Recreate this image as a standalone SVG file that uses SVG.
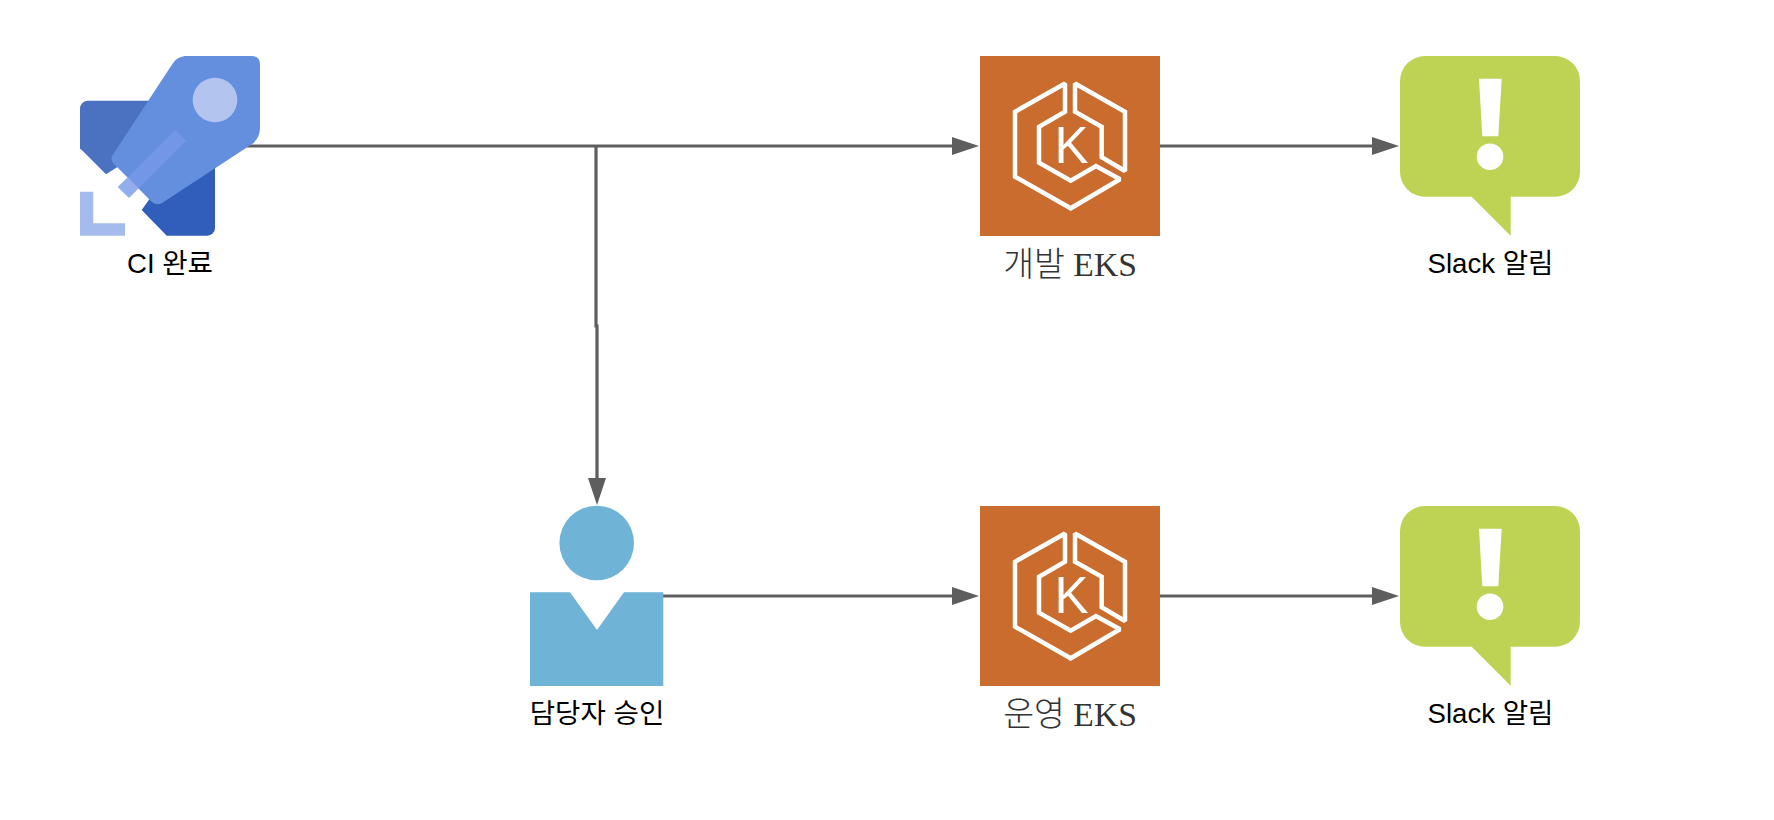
<svg xmlns="http://www.w3.org/2000/svg" width="1774" height="820" viewBox="0 0 1774 820">
<style>
.edge{fill:none;stroke:#5e5e5e;stroke-width:3.2}
.lab{font-family:"Liberation Sans","Noto Sans CJK KR",sans-serif;font-size:27.6px;fill:#000;text-anchor:middle}
.ser{font-family:"Liberation Serif","Noto Sans CJK KR",serif;font-size:33.6px;font-weight:300;fill:#333;text-anchor:middle}
.eksl{fill:none;stroke:#fff;stroke-width:4.5;stroke-linejoin:miter;stroke-miterlimit:1.9}
</style>
<defs>
<marker id="arrow" markerUnits="userSpaceOnUse" markerWidth="29" markerHeight="20" refX="1" refY="10" orient="auto"><path d="M0,1 L27,10 L0,19 Z" fill="#5e5e5e"/></marker>
<g id="eks">
<rect x="980" y="56" width="180" height="180" fill="#c96c2e"/>
<path class="eksl" d="M1065,83.5 L1015,111.7 V176.7 L1070.7,208.3 L1120,179.3 L1096,166 L1070.7,180.7 L1039,162.7 V126.7 L1065,111.7 Z"/>
<path class="eksl" d="M1075,83.5 L1125,111.7 V171 L1101.7,157.3 V126.7 L1075,111.7 Z"/>
<text x="1071.5" y="162.7" font-family="Liberation Sans,sans-serif" font-size="51" fill="#fff" text-anchor="middle">K</text>
</g>
<g id="slack">
<path fill="#bed354" d="M1425,56 H1555 A25,25 0 0 1 1580,81 V171.7 A25,25 0 0 1 1555,196.7 H1510.7 V235.7 L1471.7,196.7 H1425 A25,25 0 0 1 1400,171.7 V81 A25,25 0 0 1 1425,56 Z"/>
<path fill="#fff" d="M1479,78.7 H1501.7 L1498.3,136.3 H1482.3 Z"/>
<circle cx="1490" cy="156.7" r="13.3" fill="#fff"/>
</g>
</defs>
<rect width="1774" height="820" fill="#fff"/>
<g id="connectors">
<path class="edge" d="M247,146 H953" marker-end="url(#arrow)"/>
<path class="edge" d="M1160,146 H1373" marker-end="url(#arrow)"/>
<path class="edge" d="M596,146 V326 H597 V479" marker-end="url(#arrow)"/>
<path class="edge" d="M663,596 H953" marker-end="url(#arrow)"/>
<path class="edge" d="M1160,596 H1373" marker-end="url(#arrow)"/>
</g>
<g id="ci">
<path fill="#4a72c0" d="M88,100.7 H160 V140 L106,174.3 L80,148.3 V108.7 A8,8 0 0 1 88,100.7 Z"/>
<path fill="#305eba" d="M215,160 V228 A7.7,7.7 0 0 1 207,235.7 H166.7 L141.7,210 L170,170 Z"/>
<path fill="#a5bbee" d="M80,191.7 H93.3 V223.3 H125 V235.7 H80 Z"/>
<path fill="#648fde" d="M185,56 H251.7 Q260,56 260,64.3 V127.3 Q260,137 253.3,143.3 L161.7,203.3 Q156,206 151.7,201.7 L113.3,163.3 Q110,159 112.7,155 L171.7,65 Q176,57 185,56 Z"/>
<circle cx="215" cy="100" r="22.3" fill="#b3c5ee"/>
<path fill="#7396e6" d="M175,130 L186,141 L138.5,188.5 L127.5,177.5 Z"/>
<path fill="#92aeed" d="M127.5,177.5 L138.5,188.5 L129,198 L117.7,187 Z"/>
<text class="lab" x="170" y="272.8">CI 완료</text>
</g>
<g id="dev-eks"><use href="#eks"/><text class="ser" x="1070" y="276">개발 EKS</text></g>
<g id="dev-slack"><use href="#slack"/><text class="lab" x="1490.5" y="272.8">Slack 알림</text></g>
<g id="approver">
<circle cx="596.7" cy="543" r="37.3" fill="#6fb3d7"/>
<path fill="#6fb3d7" d="M530,592.3 H570 L597,630 L624,592.3 H663.3 V686 H530 Z"/>
<text class="lab" x="597" y="722.8">담당자 승인</text>
</g>
<g id="prod-eks"><use href="#eks" y="450"/><text class="ser" x="1070" y="726">운영 EKS</text></g>
<g id="prod-slack"><use href="#slack" y="450"/><text class="lab" x="1490.5" y="722.8">Slack 알림</text></g>
</svg>
